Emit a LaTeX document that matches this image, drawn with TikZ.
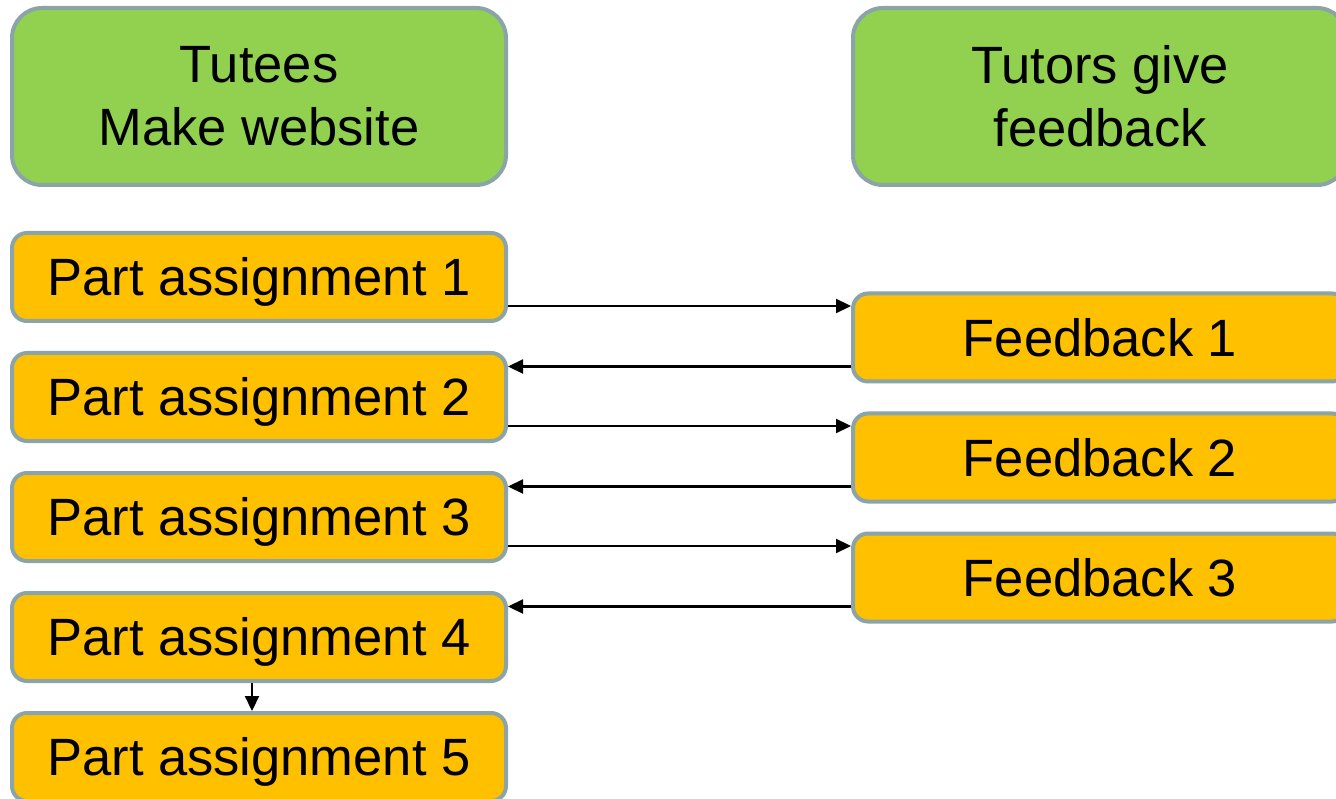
\documentclass[tikz,border=0pt]{standalone}
\usepackage{fontspec}
\setmainfont{Liberation Sans}
\usetikzlibrary{arrows.meta}
\definecolor{boxgreen}{HTML}{92D050}
\definecolor{boxorange}{HTML}{FFC000}
\definecolor{boxborder}{HTML}{8BA4A8}
\tikzset{
  basebox/.style={draw=boxborder, line width=4pt, inner sep=0pt, align=center,
    minimum width=494pt, font=\fontsize{52.5}{63}\selectfont},
  headbox/.style={basebox, fill=boxgreen, minimum height=177pt, rounded corners=30pt},
  partbox/.style={basebox, fill=boxorange, minimum height=88pt, rounded corners=15pt,
    text height=37.6pt, text depth=0pt},
  arr/.style={line width=2.2pt, -{Triangle[length=15pt,width=14pt]}}
}
\begin{document}
\begin{tikzpicture}[x=1pt,y=-1pt]
\useasboundingbox (0,0) rectangle (1336,799);
\node[headbox] (tutees) at (259,96.5) {Tutees\\Make website};
\node[headbox] (tutors) at (1100,96.5) {Tutors give\\feedback};
\node[partbox] (pa1) at (259,277) {Part assignment 1};
\node[partbox] (pa2) at (259,397) {Part assignment 2};
\node[partbox] (pa3) at (259,517) {Part assignment 3};
\node[partbox] (pa4) at (259,637) {Part assignment 4};
\node[partbox] (pa5) at (259,757) {Part assignment 5};
\node[partbox] (f1) at (1100,337.5) {Feedback 1};
\node[partbox] (f2) at (1100,457.5) {Feedback 2};
\node[partbox] (f3) at (1100,577.5) {Feedback 3};
\draw[arr] ([yshift=-29pt]pa1.east) -- ([yshift=-29pt]pa1.east -| f1.west);
\draw[arr] ([yshift=-29pt]f1.west) -- ([yshift=-29pt]f1.west -| pa2.east);
\draw[arr] ([yshift=-29pt]pa2.east) -- ([yshift=-29pt]pa2.east -| f2.west);
\draw[arr] ([yshift=-29pt]f2.west) -- ([yshift=-29pt]f2.west -| pa3.east);
\draw[arr] ([yshift=-29pt]pa3.east) -- ([yshift=-29pt]pa3.east -| f3.west);
\draw[arr] ([yshift=-29pt]f3.west) -- ([yshift=-29pt]f3.west -| pa4.east);
\draw[arr] ([xshift=-7pt]pa4.south) -- ([xshift=-7pt]pa5.north);
\end{tikzpicture}
\end{document}
